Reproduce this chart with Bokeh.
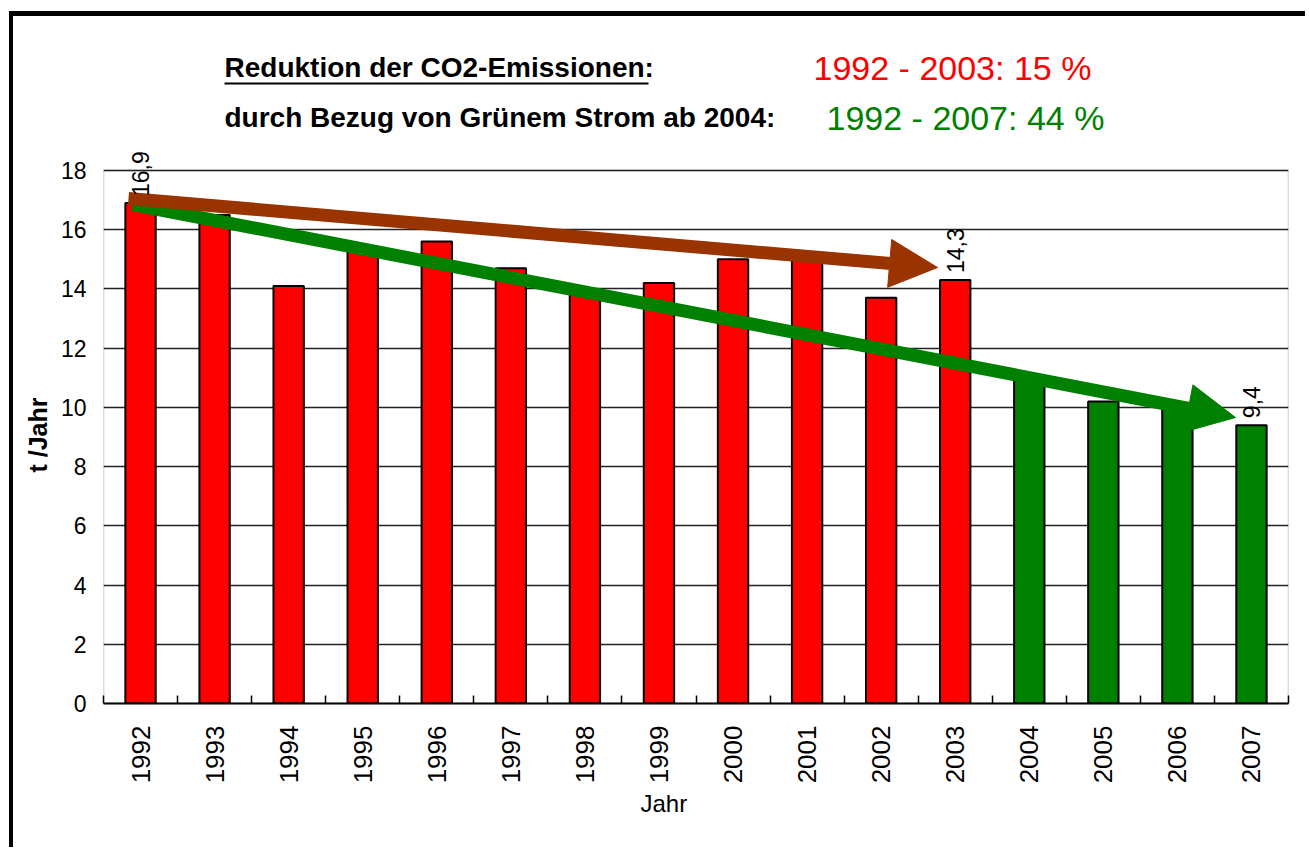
import math
from bokeh.plotting import figure
from bokeh.models import (Range1d, FixedTicker, Label, LabelSet, ColumnDataSource,
                          Arrow, NormalHead, BoxAnnotation, Title)
from bokeh.core.properties import value
from bokeh.embed import file_html
from bokeh.resources import INLINE

# ---------------- data ----------------
years = ["1992", "1993", "1994", "1995", "1996", "1997", "1998", "1999",
         "2000", "2001", "2002", "2003", "2004", "2005", "2006", "2007"]
emissions = [16.9, 16.5, 14.1, 15.4, 15.6, 14.7, 14.0, 14.2,
             15.0, 15.1, 13.7, 14.3, 10.9, 10.2, 10.0, 9.4]
bar_colors = ["#FF0000"] * 12 + ["#008000"] * 4
labelled_years = ["1992", "2003", "2007"]
y_ticks = [0, 2, 4, 6, 8, 10, 12, 14, 16, 18]
y_max = 18

title_line1 = "Reduktion der CO2-Emissionen:"
title_line2 = "durch Bezug von Grünem Strom ab 2004:"
red_text = "1992 - 2003:  15 %"
green_text = "1992 - 2007:  44 %"
y_label = "t /Jahr"
x_label = "Jahr"

# ---------------- layout helpers (pixel -> data, layout only) ----------------
FRAME_L, FRAME_B, CAT_W, UNIT_H = 103, 703, 74.06, 29.61


def dx(px):
    return (px - FRAME_L) / CAT_W


def dy(py):
    return (FRAME_B - py) / UNIT_H


# ---------------- figure ----------------
W, H = 1296, 836
p = figure(width=W, height=H, output_backend="svg", toolbar_location=None,
           x_range=Range1d(0, len(years)), y_range=Range1d(0, dy(40)),
           min_border_left=90, min_border_right=21, min_border_top=24,
           min_border_bottom=149)
p.styles = {"border-top": "5px solid black", "border-left": "4px solid black",
            "margin-top": "11px", "margin-left": "9px"}
p.background_fill_color = "white"
p.border_fill_color = "white"
p.outline_line_color = None

centers = [i + 0.5 for i in range(len(years))]
src = ColumnDataSource(dict(x=centers, top=emissions, color=bar_colors, year=years))
p.vbar(x="x", top="top", bottom=0, width=0.41, fill_color="color",
       line_color="black", line_width=2, source=src)

# plot-area border
p.add_layout(BoxAnnotation(left=0, right=len(years), bottom=0, top=y_max,
                           fill_alpha=0, fill_color=None, line_color="#222222",
                           line_width=1.5))

# axes
p.xaxis.ticker = FixedTicker(ticks=centers, minor_ticks=list(range(len(years) + 1)))
p.xaxis.major_label_overrides = {c: y for c, y in zip(centers, years)}
p.xaxis.major_label_orientation = math.pi / 2
p.xaxis.major_tick_in = 0
p.xaxis.major_tick_out = 0
p.xaxis.minor_tick_in = 8
p.xaxis.minor_tick_out = 0
p.xaxis.minor_tick_line_color = "black"
p.xaxis.minor_tick_line_width = 1.5
p.xaxis.axis_line_color = "black"
p.xaxis.axis_line_width = 2
p.xaxis.major_label_standoff = 22
p.xaxis.major_label_text_font = "Liberation Sans"
p.xaxis.major_label_text_font_size = "26px"
p.xaxis.major_label_text_color = "black"

p.yaxis.ticker = FixedTicker(ticks=y_ticks)
p.yaxis.major_tick_in = 0
p.yaxis.major_tick_out = 0
p.yaxis.minor_tick_line_color = None
p.yaxis.axis_line_color = None
p.yaxis.major_label_standoff = 17
p.yaxis.major_label_text_font = "Liberation Sans"
p.yaxis.major_label_text_font_size = "23px"
p.yaxis.major_label_text_color = "black"

p.xgrid.grid_line_color = None
p.ygrid.grid_line_color = "#222222"
p.ygrid.grid_line_width = 1.5
p.ygrid.ticker = FixedTicker(ticks=y_ticks)

# arrows
p.add_layout(Arrow(x_start=dx(132), y_start=dy(204), x_end=dx(1235), y_end=dy(417),
                   line_color="#008000", line_width=13, line_cap="butt",
                   end=NormalHead(size=48, fill_color="#008000", line_color="#008000")))
p.add_layout(Arrow(x_start=dx(128), y_start=dy(198), x_end=dx(937), y_end=dy(267),
                   line_color="#993300", line_width=13, line_cap="butt",
                   end=NormalHead(size=48, fill_color="#993300", line_color="#993300")))

# value labels
lab_idx = [years.index(y) for y in labelled_years]
lab_src = ColumnDataSource(dict(
    x=[centers[i] for i in lab_idx],
    y=[emissions[i] for i in lab_idx],
    text=[("%.1f" % emissions[i]).replace(".", ",") for i in lab_idx]))
p.add_layout(LabelSet(x="x", y="y", text="text", source=lab_src, angle=math.pi / 2,
                      text_align="left", text_baseline="middle", y_offset=7,
                      text_font=value("Liberation Sans"), text_font_size="23px",
                      text_color="black"))

# titles (inside the frame, above the 18 line)
p.add_layout(Label(x=dx(224), y=dy(67), text=title_line1, text_align="left",
                   text_baseline="middle", text_font="Liberation Sans",
                   text_font_style="bold", text_font_size="28px", text_color="black"))
p.add_layout(Arrow(x_start=dx(224), y_start=dy(83), x_end=dx(648), y_end=dy(83),
                   line_color="black", line_width=2, end=None))
p.add_layout(Label(x=dx(224), y=dy(117), text=title_line2, text_align="left",
                   text_baseline="middle", text_font="Liberation Sans",
                   text_font_style="bold", text_font_size="28px", text_color="black"))
p.add_layout(Label(x=dx(813), y=dy(67), text=red_text, text_align="left",
                   text_baseline="middle", text_font="Liberation Sans",
                   text_font_size="34px", text_color="#FF0000"))
p.add_layout(Label(x=dx(826), y=dy(117), text=green_text, text_align="left",
                   text_baseline="middle", text_font="Liberation Sans",
                   text_font_size="34px", text_color="#008000"))

# axis titles
p.add_layout(Title(text=y_label, align="left", offset=231, standoff=12,
                   text_font="Liberation Sans", text_font_style="bold",
                   text_font_size="25px", text_color="black"), "left")
p.add_layout(Title(text=x_label, align="left", offset=537, standoff=2,
                   text_font="Liberation Sans", text_font_style="normal",
                   text_font_size="24px", text_color="black"), "below")

open("out.html", "w").write(file_html(p, INLINE))
